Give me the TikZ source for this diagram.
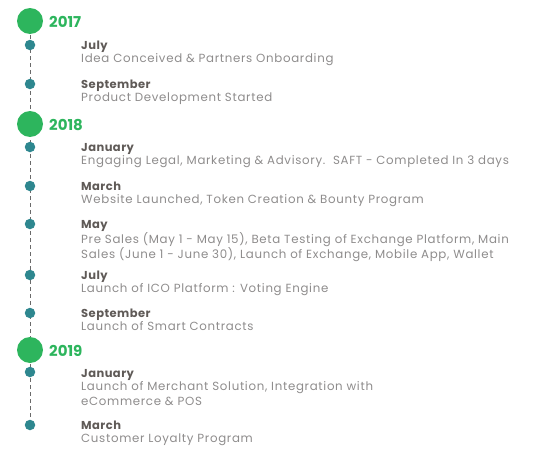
\documentclass[tikz,border=0pt]{standalone}
\usepackage{fontspec}
\setmainfont{Poppins}
\definecolor{yrgreen}{HTML}{2DB55D}
\definecolor{dotteal}{HTML}{2E878F}
\definecolor{monthc}{HTML}{5F5A57}
\definecolor{descc}{HTML}{8E8C8C}
\definecolor{linec}{HTML}{6A6A6A}
\begin{document}
\begin{tikzpicture}[x=1pt,y=-1pt,
  yearcirc/.style={circle,fill=yrgreen,minimum size=26pt,inner sep=0pt},
  dotc/.style={circle,fill=dotteal,minimum size=10.5pt,inner sep=0pt},
  yeartxt/.style={anchor=west,text=yrgreen,font=\fontsize{15}{17}\selectfont\bfseries,inner sep=0pt},
  monthtxt/.style={anchor=base west,text=monthc,font=\fontsize{11.5}{13}\selectfont\bfseries\addfontfeatures{LetterSpace=4},inner sep=0pt},
  desctxt/.style={anchor=base west,text=descc,font=\fontsize{11.8}{15}\selectfont\addfontfeatures{LetterSpace=5.8},inner sep=0pt,align=left},
  timeline/.style={draw=linec,dashed,dash pattern=on 4pt off 3pt,line width=0.8pt}]
\useasboundingbox (0,0) rectangle (560,463);
\coordinate (end) at (30,425);
\draw[timeline] (30,21) -- (end);
\node[yearcirc] (y17) at (30,21) {};
\node[yearcirc] (y18) at (30,124) {};
\node[yearcirc] (y19) at (30,350) {};
\node[yeartxt] (t17) at (49,22) {2017};
\node[yeartxt] (t18) at (49,125) {2018};
\node[yeartxt] (t19) at (49,351) {2019};
\foreach \n/\y in {a/45,b/84,c/147,d/186,e/224,f/275,g/313,h/372,i/425}{
  \node[dotc] (d\n) at (30,\y) {};
}
\node[monthtxt] (m1) at (81,49) {July};
\node[desctxt] (s1) at (81,62) {Idea Conceived \& Partners Onboarding};
\node[monthtxt] (m2) at (81,88) {September};
\node[desctxt] (s2) at (81,101) {Product Development Started};
\node[monthtxt] (m3) at (81,151) {January};
\node[desctxt] (s3) at (81,164) {Engaging Legal, Marketing \& Advisory.\ \ SAFT - Completed In 3 days};
\node[monthtxt] (m4) at (81,190) {March};
\node[desctxt] (s4) at (81,203) {Website Launched, Token Creation \& Bounty Program};
\node[monthtxt] (m5) at (81,228) {May};
\node[desctxt,anchor=north west] (s5) at (81,232) {Pre Sales (May 1 - May 15), Beta Testing of Exchange Platform, Main\\Sales (June 1 - June 30), Launch of Exchange, Mobile App, Wallet};
\node[monthtxt] (m6) at (81,279) {July};
\node[desctxt] (s6) at (81,292) {Launch of ICO Platform : Voting Engine};
\node[monthtxt] (m7) at (81,317) {September};
\node[desctxt] (s7) at (81,330) {Launch of Smart Contracts};
\node[monthtxt] (m8) at (81,377) {January};
\node[desctxt,anchor=north west] (s8) at (81,381) {Launch of Merchant Solution, Integration with\\eCommerce \& POS};
\node[monthtxt] (m9) at (81,429) {March};
\node[desctxt] (s9) at (81,442) {Customer Loyalty Program};
\end{tikzpicture}
\end{document}
